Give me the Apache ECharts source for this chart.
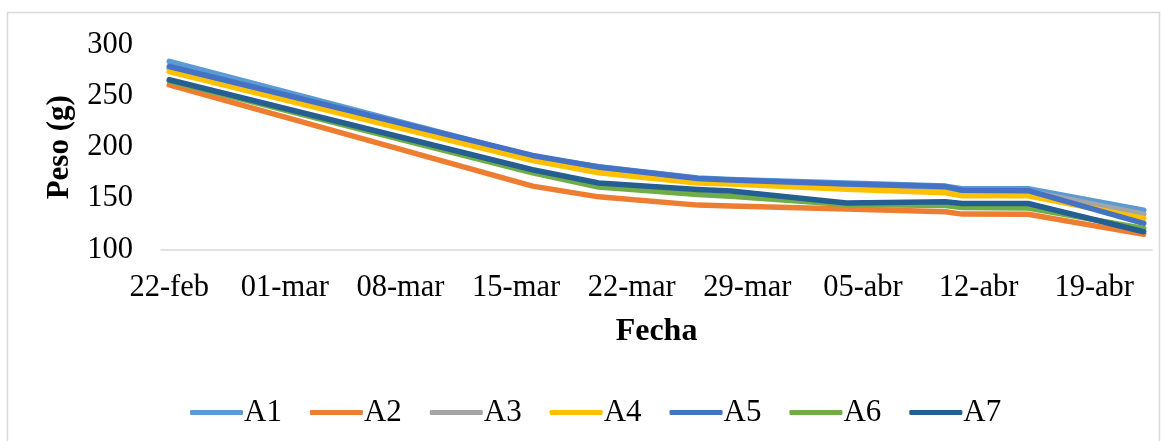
<!DOCTYPE html>
<html>
<head>
<meta charset="utf-8">
<script src="https://cdn.jsdelivr.net/npm/echarts@6/dist/echarts.min.js"></script>
<style>html,body{margin:0;padding:0;background:#fff}#c{width:1168px;height:441px}</style>
</head>
<body>
<div id="c"></div>
<script>
// Dates of the measurements
const dates = ['2023-02-22','2023-03-16','2023-03-20','2023-03-26','2023-03-28','2023-04-04','2023-04-10','2023-04-11','2023-04-15','2023-04-22'];
// Series values (Peso, g)
const A1 = [284, 191, 181, 170, 168.5, 165, 162, 159.5, 159.5, 138.5];
const A2 = [261, 162, 151.5, 143.4, 142.5, 139.5, 137, 134.6, 134.5, 114.8];
const A3 = [277, 189, 178, 168, 166.5, 162.5, 160, 157, 157, 134.6];
const A4 = [274, 187, 175, 165, 164, 159, 155.5, 152.5, 152.5, 130.4];
const A5 = [279, 192, 180.7, 169.4, 168, 164, 161.5, 158, 157.5, 125.5];
const A6 = [265, 175, 161, 153.8, 152, 144, 143, 141, 140.5, 120.7];
const A7 = [266, 178, 165, 158.7, 157.3, 145.5, 146.6, 145, 145, 117.4];
const seriesNames = ['A1','A2','A3','A4','A5','A6','A7'];
const seriesValues = [A1, A2, A3, A4, A5, A6, A7];
const colors = ['#5B9BD5','#ED7D31','#A5A5A5','#FFC000','#4472C4','#70AD47','#255E91'];
// Tick labels on the date axis
const tickDates = ['2023-02-22','2023-03-01','2023-03-08','2023-03-15','2023-03-22','2023-03-29','2023-04-05','2023-04-12','2023-04-19'];
const tickLabels = ['22-feb','01-mar','08-mar','15-mar','22-mar','29-mar','05-abr','12-abr','19-abr'];

const DAY = 86400000;
const t0 = Date.parse(dates[0] + 'T00:00:00Z');
const toDay = d => Math.round((Date.parse(d + 'T00:00:00Z') - t0) / DAY);
const xDays = dates.map(toDay);
const tickDays = tickDates.map(toDay);
const lastDay = xDays[xDays.length - 1];

const FONT = "'Liberation Serif', 'Times New Roman', serif";

const chart = echarts.init(document.getElementById('c'), null, {renderer: 'canvas'});
chart.setOption({
  animation: false,
  backgroundColor: '#fff',
  color: colors,
  graphic: [{
    type: 'rect', silent: true, z: -1,
    shape: {x: 7.5, y: 12.5, width: 1152, height: 440},
    style: {fill: 'none', stroke: '#d9d9d9', lineWidth: 1.5}
  }],
  grid: {left: 161, right: 16, top: 45, bottom: 191.5, containLabel: false},
  legend: {
    left: 185, top: 392,
    icon: 'roundRect', itemWidth: 53, itemHeight: 5, itemGap: 28,
    textStyle: {fontFamily: FONT, fontSize: 31, color: '#000', padding: [0, 0, 0, -4]},
    data: seriesNames
  },
  xAxis: {
    type: 'value',
    min: -0.5, max: lastDay + 0.5,
    name: 'Fecha', nameLocation: 'middle', nameGap: 66,
    nameTextStyle: {fontFamily: FONT, fontSize: 32, fontWeight: 'bold', color: '#000'},
    axisLine: {show: true, lineStyle: {color: '#d9d9d9', width: 1.5}},
    axisTick: {show: false},
    splitLine: {show: false},
    axisLabel: {
      customValues: tickDays,
      margin: 23,
      fontFamily: FONT, fontSize: 30.5, color: '#000',
      formatter: v => { const i = tickDays.indexOf(Math.round(v)); return i >= 0 ? tickLabels[i] : ''; }
    }
  },
  yAxis: {
    type: 'value', min: 100, max: 300, interval: 50,
    name: 'Peso (g)', nameLocation: 'middle', nameGap: 86, nameRotate: 90,
    nameTextStyle: {fontFamily: FONT, fontSize: 31, fontWeight: 'bold', color: '#000'},
    axisLine: {show: false}, axisTick: {show: false},
    splitLine: {show: false},
    axisLabel: {margin: 28, fontFamily: FONT, fontSize: 30.5, color: '#000'}
  },
  series: seriesNames.map((n, i) => ({
    name: n, type: 'line', symbol: 'none', smooth: false,
    lineStyle: {width: 5.5, color: colors[i], cap: 'round', join: 'round'},
    itemStyle: {color: colors[i]},
    data: seriesValues[i].map((v, j) => [xDays[j], v])
  }))
});
</script>
</body>
</html>
